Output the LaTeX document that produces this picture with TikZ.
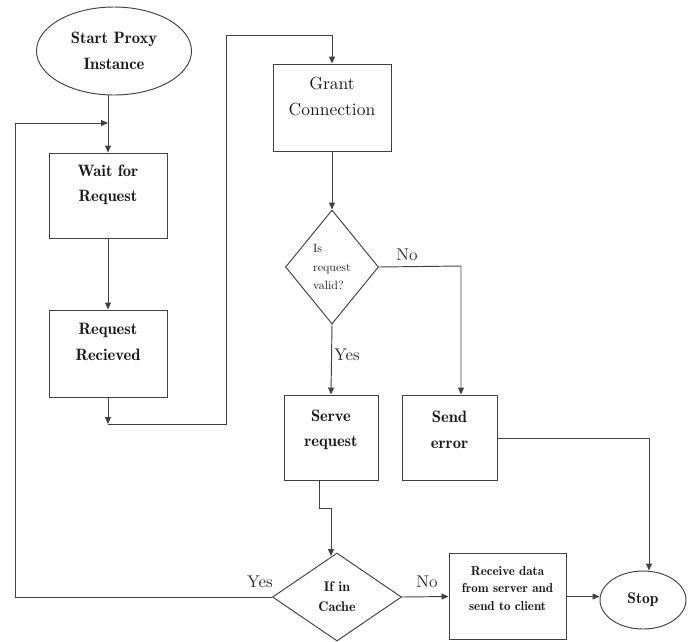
\documentclass[tikz,border=0pt]{standalone}
\usepackage{fontspec}
\setmainfont{lmroman10-regular.otf}[BoldFont=lmromandemi10-regular.otf]
\usetikzlibrary{arrows.meta,shapes.geometric,calc}
\begin{document}
\begin{tikzpicture}[x=1pt,y=-1pt,
  line/.style={draw=black!75, line width=0.95pt},
  arr/.style={line, -{Triangle[length=7pt,width=6pt]}},
  box/.style={draw=black!75, line width=0.95pt, rectangle, inner sep=0pt},
  oval/.style={draw=black!75, line width=0.95pt, ellipse, inner sep=0pt},
  dia/.style={draw=black!75, line width=0.95pt, diamond, inner sep=0pt},
  txt/.style={font=\fontsize{16.5}{25.5}\bfseries\selectfont, align=center, text=black!90},
  rtxt/.style={font=\fontsize{17.5}{26}\selectfont, align=center, text=black!90},
  stxt/.style={font=\fontsize{13}{17.5}\bfseries\selectfont, align=center, text=black!90},
  lab/.style={font=\fontsize{17}{20}\selectfont, text=black!82, inner sep=0pt}
]
\useasboundingbox (0,0) rectangle (693,641);

% nodes
\node[oval, minimum width=155pt, minimum height=88pt, txt] (start) at (114,51) {Start Proxy\\Instance};
\node[box, minimum width=118pt, minimum height=85pt] (wait) at (108,195.5) {};
\node[txt] (waitT) at (108,185) {Wait for\\Request};
\node[box, minimum width=118pt, minimum height=87pt] (rr) at (108,353.5) {};
\node[txt] (rrT) at (108,342) {Request\\Recieved};
\node[box, minimum width=118pt, minimum height=87pt] (grant) at (332,107.5) {};
\node[rtxt] (grantT) at (332,97) {Grant\\Connection};
\node[dia, minimum width=93pt, minimum height=114pt,
      font=\fontsize{12}{18.5}\selectfont, align=left, text=black!88] (d1) at (332,267) {Is\\request\\valid?};
\node[box, minimum width=94pt, minimum height=85pt] (serve) at (331,437.5) {};
\node[txt] (serveT) at (331,430) {Serve\\request};
\node[box, minimum width=95pt, minimum height=85pt] (send) at (449.5,437.5) {};
\node[txt] (sendT) at (449.5,430) {Send\\error};
\node[dia, minimum width=129pt, minimum height=88pt, font=\fontsize{14}{20}\bfseries\selectfont,
      align=center, text=black!90] (d2) at (337,597) {If in\\Cache};
\node[box, minimum width=117pt, minimum height=86pt] (recv) at (507.5,596.5) {};
\node[stxt] (recvT) at (507.5,588.5) {Receive data\\from server and\\send to client};
\node[oval, minimum width=86pt, minimum height=58pt, font=\fontsize{15.5}{18}\bfseries\selectfont, text=black!90] (stop) at (643,600) {Stop};

% labels
\node[lab] (noA) at (407,255) {No};
\node[lab] (yesA) at (347,355) {Yes};
\node[lab] (yesB) at (260,582) {Yes};
\node[lab] (noB) at (427,582) {No};

% coordinates
\coordinate (l1) at (15,123);
\coordinate (r1) at (108,424);
\coordinate (r2) at (226,35);
\coordinate (n1) at (461,266);
\coordinate (s1) at (319,508);
\coordinate (s2) at (331,508);
\coordinate (s3) at (331,556);
\coordinate (e1) at (649,438);

% connectors
\draw[arr] (start.south -| wait.north) -- (wait.north);
\draw[arr] (d2.west) -| (l1) -- (wait.north |- l1);
\draw[arr] (wait.south) -- (rr.north);
\draw[arr] (rr.south) -- (r1);
\draw[arr] (r1) -| (r2) -| (grant.north);
\draw[arr] (grant.south) -- (d1.north);
\draw[arr] (d1.east) -- (n1) -- (n1 |- send.north);
\draw[arr] (d1.south) -- (serve.north);
\draw[arr] (serve.south -| s1) -- (s1) -- (s2) -- (s3);
\draw[arr] (d2.east) -- (recv.west);
\draw[arr] (recv.east) -- (recv.east -| stop.west);
\draw[arr] (send.east |- e1) -- (e1) -- (e1 |- stop.north);
\end{tikzpicture}
\end{document}
